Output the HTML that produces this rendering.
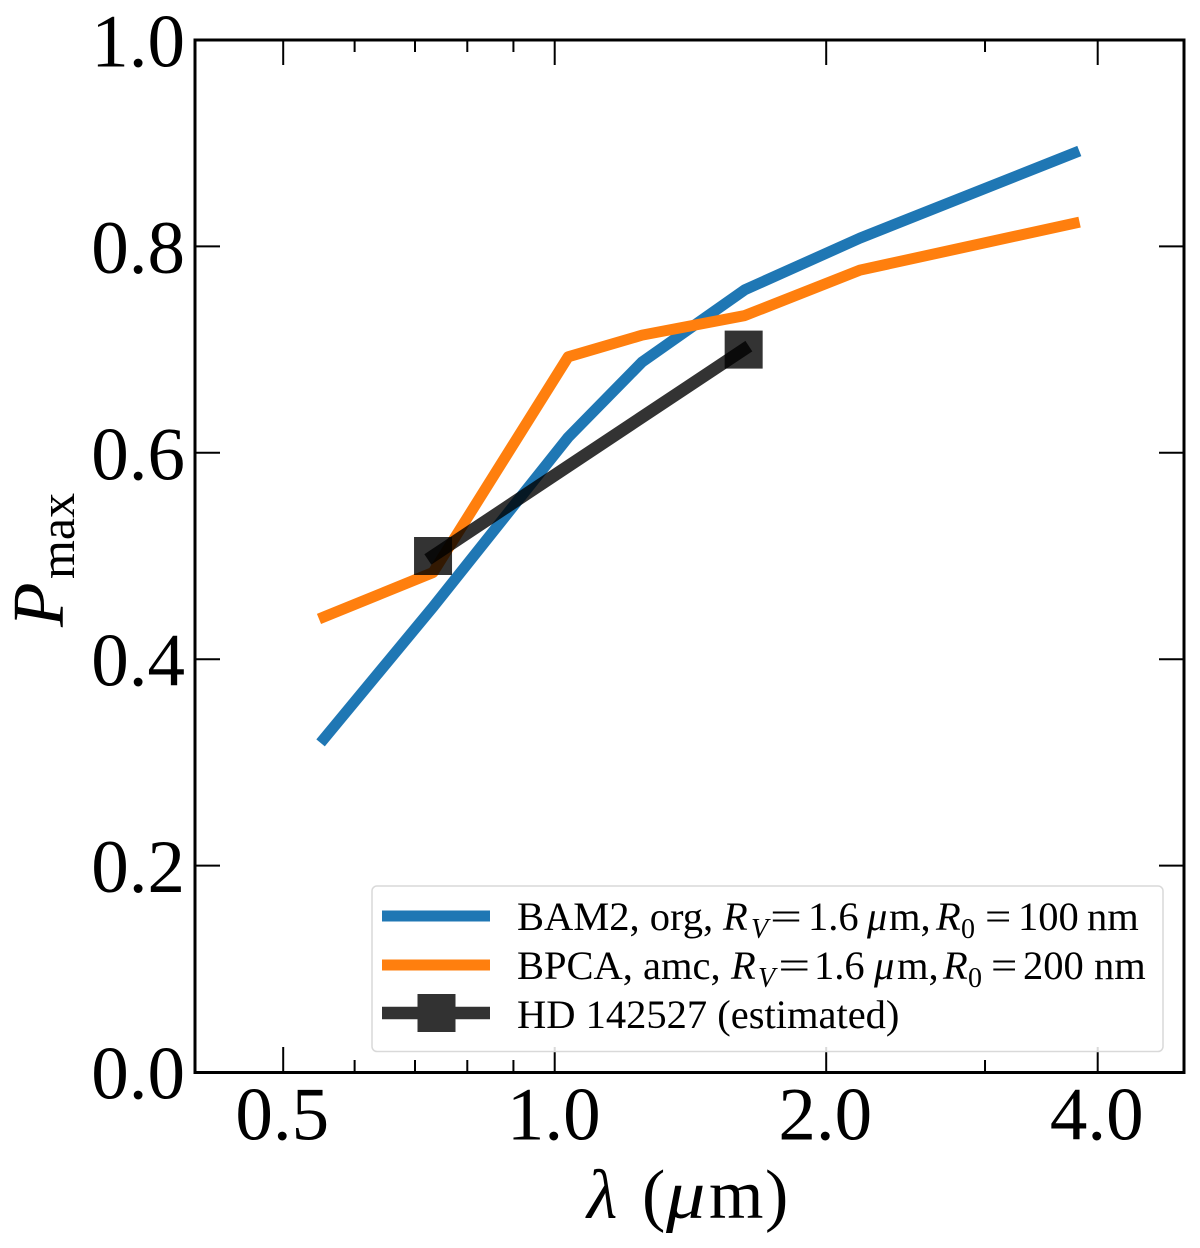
<!DOCTYPE html>
<html lang="en">
<head>
<meta charset="utf-8">
<title>Pmax vs wavelength</title>
<style>
html,body{margin:0;padding:0;background:#fff;}
svg{display:block;}
text{font-family:"Liberation Serif","DejaVu Serif",serif;fill:#000;}
</style>
</head>
<body>
<svg id="chart" xmlns="http://www.w3.org/2000/svg" width="1200" height="1248" viewBox="0 0 1200 1248">
<g id="marks"></g>
<g id="ticks"></g>
<rect x="195" y="40" width="989" height="1032.500" fill="none" stroke="#000" stroke-width="3"></rect>

<g>
<text transform="translate(63,627) rotate(-90)" font-size="73" font-style="italic">P</text>
<text transform="translate(74,579) rotate(-90)" font-size="50">max</text>
</g>
<g font-size="70">
<text x="587" y="1218" font-style="italic">λ</text>
<text x="642" y="1218">(</text>
<text transform="translate(666,1218) scale(1.12,1)" font-style="italic">μ</text>
<text x="709" y="1218">m</text>
<text x="765" y="1218">)</text>
</g>

<g>
<rect x="372" y="886" width="791" height="165.500" rx="5" fill="#fff" fill-opacity="0.85" stroke="#d9d9d9" stroke-width="1.500"></rect>
<line x1="382" x2="490" y1="916" y2="916" stroke="#1f77b4" stroke-width="11"></line>
<line x1="382" x2="490" y1="965" y2="965" stroke="#ff7f0e" stroke-width="11"></line>
<g opacity="0.8">
<line x1="382" x2="490" y1="1013" y2="1013" stroke="#000" stroke-width="12.500"></line>
<rect x="417.500" y="994" width="38" height="38" fill="#000"></rect>
</g>
<g font-size="40.500">
<text x="517" y="930">BAM2, org,</text>
<text x="723" y="930" font-style="italic">R</text>
<text x="751" y="938" font-size="28" font-style="italic">V</text>
<text transform="translate(770,930) scale(1.4,1)">=</text>
<text x="808" y="930">1.6</text>
<text x="867" y="930" font-style="italic">μ</text>
<text x="889" y="930">m,</text>
<text x="936" y="930" font-style="italic">R</text>
<text x="961" y="938" font-size="28">0</text>
<text transform="translate(985,930) scale(1.15,1)">=</text>
<text x="1018" y="930">100</text>
<text x="1087" y="930">nm</text>
</g>
<g font-size="40.500">
<text x="517" y="979">BPCA, amc,</text>
<text x="731" y="979" font-style="italic">R</text>
<text x="758" y="987" font-size="28" font-style="italic">V</text>
<text transform="translate(778.300,979) scale(1.4,1)">=</text>
<text x="814" y="979">1.6</text>
<text x="874" y="979" font-style="italic">μ</text>
<text x="897" y="979">m,</text>
<text x="943" y="979" font-style="italic">R</text>
<text x="968" y="987" font-size="28">0</text>
<text transform="translate(991,979) scale(1.15,1)">=</text>
<text x="1023" y="979">200</text>
<text x="1094" y="979">nm</text>
</g>
<text x="517" y="1028" font-size="40.500">HD 142527 (estimated)</text>
</g>
</svg>
<script>
const wavelengths = [0.555, 0.733, 1.035, 1.25, 1.625, 2.18, 3.767];
const bam2Values = [0.323, 0.4506, 0.615, 0.688, 0.758, 0.808, 0.8905];
const bpcaValues = [0.441, 0.484, 0.693, 0.714, 0.733, 0.777, 0.8224];
const hdWavelengths = [0.733, 1.62];
const hdValues = [0.5, 0.7];
const xMajorTicks = [0.5, 1, 2, 4];
const xMajorLabels = ['0.5', '1.0', '2.0', '4.0'];
const xMinorTicks = [0.6, 0.7, 0.8, 0.9, 3];
const yTicks = [0, 0.2, 0.4, 0.6, 0.8, 1];
const yLabels = ['0.0', '0.2', '0.4', '0.6', '0.8', '1.0'];

const NS = 'http://www.w3.org/2000/svg';
function xScale(v) { return 554.7 + 271.5 * Math.log2(v); }
function yScale(v) { return 1072 - 1032 * v; }
const marks = document.getElementById('marks');
const ticks = document.getElementById('ticks');
const chart = document.getElementById('chart');

function poly(xs, ys, color, width, opacity) {
  const p = document.createElementNS(NS, 'polyline');
  p.setAttribute('points', xs.map((x, i) => xScale(x) + ',' + yScale(ys[i])).join(' '));
  p.setAttribute('fill', 'none');
  p.setAttribute('stroke', color);
  p.setAttribute('stroke-width', width);
  p.setAttribute('stroke-linejoin', 'round');
  p.setAttribute('stroke-linecap', 'square');
  p.setAttribute('stroke-opacity', opacity);
  marks.appendChild(p);
  return p;
}
const bamLine = poly(wavelengths, bam2Values, '#1f77b4', 11, 1);


const bpcaLine = poly(wavelengths, bpcaValues, '#ff7f0e', 11, 1);



hdWavelengths.forEach((w, i) => {
  const r = document.createElementNS(NS, 'rect');
  r.setAttribute('x', xScale(w) - 19);
  r.setAttribute('y', yScale(hdValues[i]) - 19);
  r.setAttribute('width', 38);
  r.setAttribute('height', 38);
  r.setAttribute('fill', '#000');
  r.setAttribute('fill-opacity', 0.8);
  
  
  marks.appendChild(r);
});
const hdLine = poly(hdWavelengths, hdValues, '#000', 12.5, 0.8);



function tick(x1, y1, x2, y2, w) {
  const l = document.createElementNS(NS, 'line');
  l.setAttribute('x1', x1);
  l.setAttribute('y1', y1);
  l.setAttribute('x2', x2);
  l.setAttribute('y2', y2);
  l.setAttribute('stroke', '#000');
  l.setAttribute('stroke-width', w);
  
  
  ticks.appendChild(l);
}
function label(str, x, y, anchor, name) {
  const t = document.createElementNS(NS, 'text');
  t.textContent = str;
  t.setAttribute('x', x);
  t.setAttribute('y', y);
  t.setAttribute('text-anchor', anchor);
  t.setAttribute('font-size', 75);
  
  
  chart.appendChild(t);
}
xMajorTicks.forEach((v, i) => {
  const x = xScale(v);
  tick(x, 1072, x, 1047, 2);
  tick(x, 40, x, 65, 2);
  label(xMajorLabels[i], x - 1, 1139.5, 'middle', 'x-tick-label');
});
xMinorTicks.forEach(v => {
  const x = xScale(v);
  tick(x, 1072, x, 1060, 2);
  tick(x, 40, x, 52, 2);
});
yTicks.forEach((v, i) => {
  const y = yScale(v);
  tick(195, y, 220, y, 2);
  tick(1184, y, 1159, y, 2);
  label(yLabels[i], 185, y + 26.5, 'end', 'y-tick-label');
});
</script>
</body>
</html>
